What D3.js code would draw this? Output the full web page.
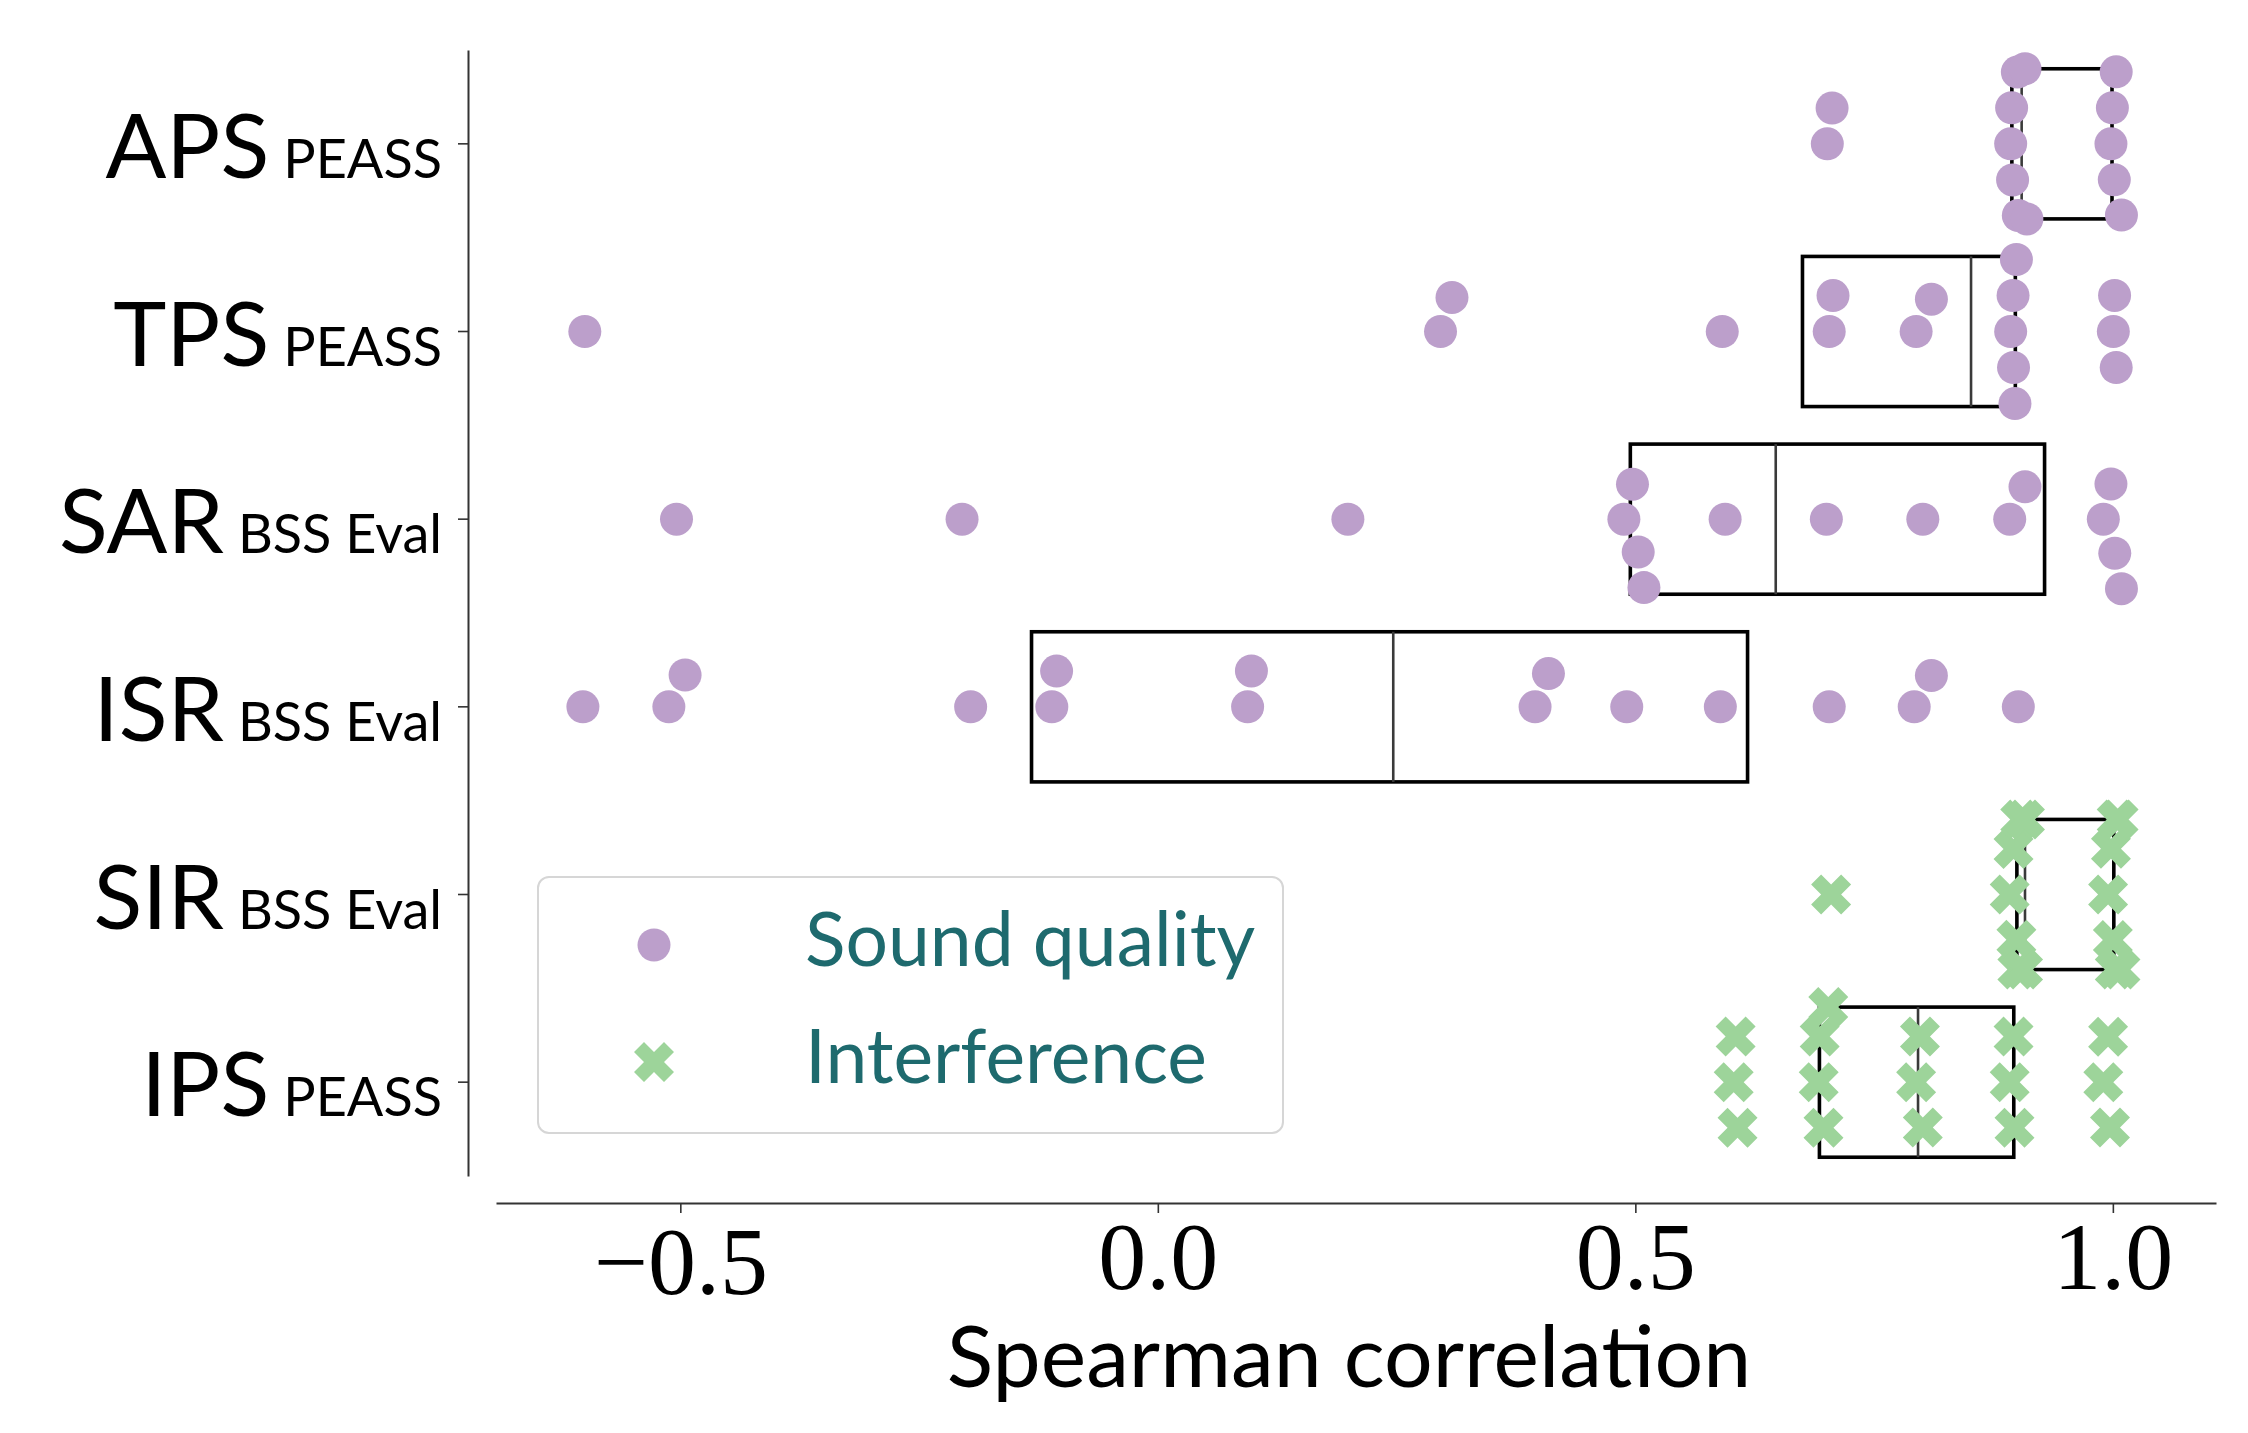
<!DOCTYPE html>
<html>
<head>
<meta charset="utf-8">
<script src="https://cdn.jsdelivr.net/npm/d3@7"></script>
<style>
    body { margin: 0; background: #fff; }
    svg { display: block; }
</style>
</head>
<body>
<svg id="chart" width="2248" height="1433"></svg>
<script>
// Categories (top to bottom) and their subscript labels
const categories = ['APS', 'TPS', 'SAR', 'ISR', 'SIR', 'IPS'];
const subscripts = ['PEASS', 'PEASS', 'BSS Eval', 'BSS Eval', 'BSS Eval', 'PEASS'];
const categoryGroup = ['Sound quality', 'Sound quality', 'Sound quality', 'Sound quality', 'Interference', 'Interference'];
const groups = ['Sound quality', 'Interference'];

// Spearman correlations per metric
const apsValues = [0.701, 0.706, 0.893, 0.894, 0.895, 0.900, 0.901, 0.908, 0.910, 0.998, 0.9995, 1.0015, 1.0035, 1.009];
const tpsValues = [-0.600, 0.296, 0.308, 0.591, 0.703, 0.707, 0.794, 0.810, 0.893, 0.8955, 0.896, 0.8975, 0.899, 1.0005, 1.0018, 1.0035];
const sarValues = [-0.504, -0.205, 0.199, 0.488, 0.497, 0.503, 0.509, 0.594, 0.700, 0.801, 0.892, 0.908, 0.990, 0.998, 1.002, 1.009];
const isrValues = [-0.602, -0.512, -0.495, -0.196, -0.111, -0.106, 0.094, 0.098, 0.395, 0.409, 0.491, 0.589, 0.703, 0.792, 0.810, 0.901];
const sirValues = [0.705, 0.892, 0.896, 0.899, 0.900, 0.903, 0.906, 0.908, 0.995, 0.998, 1.000, 1.002, 1.004, 1.006, 1.008];
const ipsValues = [0.603, 0.605, 0.607, 0.692, 0.693, 0.697, 0.702, 0.794, 0.798, 0.801, 0.892, 0.896, 0.897, 0.990, 0.995, 0.997];
const allValues = [apsValues, tpsValues, sarValues, isrValues, sirValues, ipsValues];

// Axis
const xLimits = [-0.693, 1.108];
const xTicks = [-0.5, 0, 0.5, 1.0];
const xTickLabels = ['\u22120.5', '0.0', '0.5', '1.0'];

const colors = { 'Sound quality': '#bc9fcb', 'Interference': '#9dd49a' };
const textFont = 'Lato, "Open Sans", sans-serif';

const svg = d3.select('#chart');

const x = d3.scaleLinear().domain(xLimits).range([496, 2216]);
const y = d3.scaleBand().domain(categories).range([50, 1176]);
const boxHeight = y.bandwidth() * 0.8;

// filled X marker (matplotlib 'X' outline)
const xMarkerPts = [[-1, -2], [0, -1], [1, -2], [2, -1], [1, 0], [2, 1], [1, 2], [0, 1], [-1, 2], [-2, 1], [-1, 0], [-2, -1]];
const xMarkerPath = 'M' + xMarkerPts.map(p => (p[0] * 10) + ',' + (p[1] * 10)).join('L') + 'Z';

// seaborn-like beeswarm, offsets in pixels (positive = up)
function swarm(values, r, halfWidth) {
    const pts = values.map(v => ({ v: v, px: x(v) })).sort((a, b) => a.px - b.px);
    const placed = [];
    pts.forEach((p, i) => {
        if (i === 0) { p.off = 0; placed.push(p); return; }
        const neighbors = [];
        for (let j = placed.length - 1; j >= 0; j--) {
            if (p.px - placed[j].px < 2 * r) neighbors.push(placed[j]);
            else break;
        }
        const cands = [0];
        neighbors.forEach(q => {
            const dy = p.px - q.px;
            const dx = Math.sqrt(Math.max(4 * r * r - dy * dy, 0)) * 1.05;
            cands.push(q.off + dx, q.off - dx);
        });
        const order = cands.map((c, k) => ({ c: c, k: k }))
            .sort((a, b) => (Math.abs(a.c) - Math.abs(b.c)) || (a.k - b.k));
        p.off = order[order.length - 1].c;
        for (const o of order) {
            const ok = neighbors.every(q => Math.hypot(o.c - q.off, p.px - q.px) >= 2 * r - 1e-9);
            if (ok) { p.off = o.c; break; }
        }
        placed.push(p);
    });
    placed.forEach(p => { p.off = Math.max(-halfWidth, Math.min(halfWidth, p.off)); });
    return placed;
}

// Boxes (no whiskers, no fliers)
const boxes = svg.append('g');
categories.forEach((cat, i) => {
    const vals = allValues[i].slice().sort(d3.ascending);
    const q1 = d3.quantile(vals, 0.25);
    const med = d3.quantile(vals, 0.5);
    const q3 = d3.quantile(vals, 0.75);
    const top = y(cat) + (y.bandwidth() - boxHeight) / 2;
    boxes.append('rect')
        .attr('x', x(q1)).attr('y', top)
        .attr('width', x(q3) - x(q1)).attr('height', boxHeight)
        .attr('fill', 'none').attr('stroke', '#000').attr('stroke-width', 3.6);
    boxes.append('line')
        .attr('x1', x(med)).attr('x2', x(med))
        .attr('y1', top).attr('y2', top + boxHeight)
        .attr('stroke', '#3a3a3a').attr('stroke-width', 2.6);
});

// Swarm points
const points = svg.append('g');
categories.forEach((cat, i) => {
    const grp = categoryGroup[i];
    const cy = y(cat) + y.bandwidth() / 2;
    const isCircle = grp === 'Sound quality';
    const placed = swarm(allValues[i], isCircle ? 17.2 : 21.8, boxHeight / 2);
    if (isCircle) {
        points.selectAll(null).data(placed).enter().append('circle')
            .attr('cx', d => d.px).attr('cy', d => cy - d.off)
            .attr('r', 16.5).attr('fill', colors[grp]);
    } else {
        points.selectAll(null).data(placed).enter().append('path')
            .attr('d', xMarkerPath)
            .attr('transform', d => 'translate(' + d.px + ',' + (cy - d.off) + ')')
            .attr('fill', colors[grp]);
    }
});

// X axis
const xAxis = svg.append('g')
    .attr('transform', 'translate(0,1203)')
    .call(d3.axisBottom(x).tickValues(xTicks).tickSize(10).tickSizeOuter(0)
        .tickFormat((d, i) => xTickLabels[i]));
xAxis.select('.domain').attr('stroke', '#333').attr('stroke-width', 2);
xAxis.selectAll('.tick line').attr('stroke', '#333').attr('stroke-width', 1.6);
xAxis.selectAll('.tick text')
    .attr('y', 86)
    .attr('dy', (d) => d < 0 ? 5 : 0)
    .attr('fill', '#000')
    .style('font-family', '"Liberation Serif", "Times New Roman", serif')
    .style('font-size', '96px');

svg.append('text')
    .attr('x', 1349).attr('y', 1387)
    .attr('text-anchor', 'middle')
    .style('font-family', textFont).style('font-size', '86px')
    .text('Spearman correlation');

// Y axis
const yAxis = svg.append('g')
    .attr('transform', 'translate(468,0)')
    .call(d3.axisLeft(y).tickSize(10).tickSizeOuter(0).tickFormat(''));
yAxis.select('.domain').attr('stroke', '#333').attr('stroke-width', 2);
yAxis.selectAll('.tick line').attr('stroke', '#333').attr('stroke-width', 1.6);

const yLabels = svg.append('g');
categories.forEach((cat, i) => {
    const t = yLabels.append('text')
        .attr('x', 442).attr('y', y(cat) + y.bandwidth() / 2 + 34)
        .attr('text-anchor', 'end')
        .style('font-family', textFont);
    t.append('tspan').style('font-size', '90px').text(cat);
    t.append('tspan').attr('dx', 14).style('font-size', '54px').text(subscripts[i]);
});

// Legend
const legend = svg.append('g');
legend.append('rect')
    .attr('x', 538).attr('y', 877).attr('width', 745).attr('height', 256)
    .attr('rx', 11).attr('fill', '#fff')
    .attr('stroke', '#d6d6d6').attr('stroke-width', 2);
groups.forEach((g, i) => {
    const ly = 945 + i * 117;
    if (i === 0) {
        legend.append('circle').attr('cx', 654).attr('cy', ly).attr('r', 16.5).attr('fill', colors[g]);
    } else {
        legend.append('path').attr('d', xMarkerPath)
            .attr('transform', 'translate(654,' + ly + ')').attr('fill', colors[g]);
    }
    legend.append('text')
        .attr('x', 805).attr('y', ly + 21)
        .attr('fill', '#1e6a6e')
        .style('font-family', textFont).style('font-size', '75px')
        .text(g);
});
</script>
</body>
</html>
